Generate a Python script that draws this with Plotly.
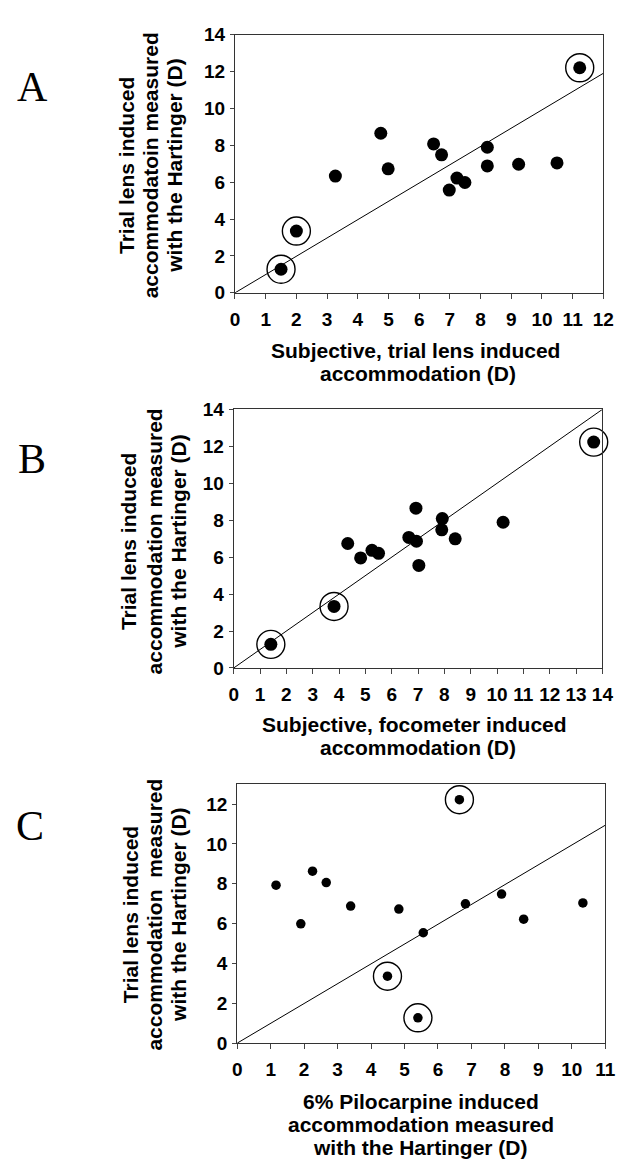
import plotly.graph_objects as go

W, H = 628, 1170

# ---------------- data ----------------
# Panel A: subjective trial lens vs Hartinger (trial lens)
a_x = [1.5, 2.0, 3.27, 4.75, 4.99, 6.47, 6.73, 6.98, 7.23, 7.49, 8.22, 8.22, 9.24, 10.49, 11.23]
a_y = [1.28, 3.35, 6.33, 8.65, 6.72, 8.07, 7.48, 5.57, 6.22, 5.98, 7.89, 6.88, 6.97, 7.04, 12.2]
a_circled = [1, 1, 0, 0, 0, 0, 0, 0, 0, 0, 0, 0, 0, 0, 1]
a_fit_x = [0, 12]
a_fit_y = [0, 11.9]

# Panel B: subjective focometer vs Hartinger (trial lens)
b_x = [1.41, 3.81, 4.33, 4.82, 5.25, 5.5, 6.65, 6.92, 6.94, 7.03, 7.92, 7.9, 8.41, 10.23, 13.67]
b_y = [1.28, 3.33, 6.74, 5.96, 6.37, 6.21, 7.07, 8.65, 6.86, 5.55, 8.09, 7.48, 6.99, 7.89, 12.23]
b_circled = [1, 1, 0, 0, 0, 0, 0, 0, 0, 0, 0, 0, 0, 0, 1]
b_fit_x = [0, 14]
b_fit_y = [0, 14]

# Panel C: pilocarpine vs Hartinger (trial lens)
c_x = [1.16, 1.9, 2.25, 2.66, 3.39, 4.83, 4.49, 5.56, 5.4, 6.64, 6.82, 7.9, 8.56, 10.33]
c_y = [7.93, 5.99, 8.63, 8.06, 6.88, 6.73, 3.36, 5.54, 1.27, 12.22, 6.99, 7.48, 6.22, 7.04]
c_circled = [0, 0, 0, 0, 0, 0, 1, 0, 1, 1, 0, 0, 0, 0]
c_fit_x = [0, 11]
c_fit_y = [0, 10.94]

a_xticks = list(range(0, 13))
a_yticks = list(range(0, 15, 2))
b_xticks = list(range(0, 15))
b_yticks = list(range(0, 15, 2))
c_xticks = list(range(0, 12))
c_yticks = list(range(0, 13, 2))

panel_letters = ["A", "B", "C"]
a_ytitle = ["Trial lens induced", "accommodatoin measured", "with the Hartinger (D)"]
b_ytitle = ["Trial lens induced", "accommodation measured", "with the Hartinger (D)"]
c_ytitle = ["Trial lens induced", "accommodation  measured", "with the Hartinger (D)"]
a_xtitle = ["Subjective, trial lens induced", "accommodation (D)"]
b_xtitle = ["Subjective, focometer induced", "accommodation (D)"]
c_xtitle = ["6% Pilocarpine induced", "accommodation measured", "with the Hartinger (D)"]

# ---------------- layout helpers ----------------
def px(x):
    return x / W

def py(y):
    return 1 - y / H

FONT = "Liberation Sans, Arial, sans-serif"
SERIF = "Liberation Serif, Times New Roman, serif"

fig = go.Figure()

panels = [
    dict(xs=a_x, ys=a_y, circ=a_circled, fx=a_fit_x, fy=a_fit_y, ax="x", ay="y",
         msize=13, box=(236, 614, 25, 288), xr=[0, 12], yr=[0, 14],
         xt=a_xticks, yt=a_yticks),
    dict(xs=b_x, ys=b_y, circ=b_circled, fx=b_fit_x, fy=b_fit_y, ax="x2", ay="y2",
         msize=13, box=(234.7, 613, 406.7, 670), xr=[0, 14], yr=[0, 14],
         xt=b_xticks, yt=b_yticks),
    dict(xs=c_x, ys=c_y, circ=c_circled, fx=c_fit_x, fy=c_fit_y, ax="x3", ay="y3",
         msize=9.5, box=(238.3, 616, 788.3, 1052), xr=[0, 11], yr=[0, 13],
         xt=c_xticks, yt=c_yticks),
]

for i, p in enumerate(panels):
    fig.add_trace(go.Scatter(x=p["fx"], y=p["fy"], mode="lines",
                             line=dict(color="black", width=1),
                             xaxis=p["ax"], yaxis=p["ay"], hoverinfo="skip"))
    fig.add_trace(go.Scatter(x=p["xs"], y=p["ys"], mode="markers",
                             marker=dict(color="black", size=p["msize"], line=dict(width=0)),
                             xaxis=p["ax"], yaxis=p["ay"], cliponaxis=False))
    cx = [x for x, c in zip(p["xs"], p["circ"]) if c]
    cy = [y for y, c in zip(p["ys"], p["circ"]) if c]
    fig.add_trace(go.Scatter(x=cx, y=cy, mode="markers",
                             marker=dict(symbol="circle-open", size=28, color="black",
                                         line=dict(color="black", width=1.4)),
                             xaxis=p["ax"], yaxis=p["ay"], cliponaxis=False))

    l, r, t, b = p["box"]
    sfx = "" if i == 0 else str(i + 1)
    tickfont = dict(family=FONT, size=19, color="black")
    fig.layout["xaxis" + sfx] = dict(
        domain=[px(l), px(r)], range=p["xr"], tickvals=p["xt"],
        ticktext=["<b>%d</b>" % v for v in p["xt"]],
        ticks="outside", ticklen=5, tickwidth=1, tickcolor="#444",
        showline=True, linecolor="#333", linewidth=1, mirror=True,
        showgrid=False, zeroline=False, tickfont=tickfont,
        anchor="y" + sfx, fixedrange=True, ticklabelstandoff=4)
    fig.layout["yaxis" + sfx] = dict(
        domain=[py(b), py(t)], range=p["yr"], tickvals=p["yt"],
        ticktext=["<b>%d</b>" % v for v in p["yt"]],
        ticks="outside", ticklen=4, tickwidth=1, tickcolor="#444",
        showline=True, linecolor="#333", linewidth=1, mirror=True,
        showgrid=False, zeroline=False, tickfont=tickfont,
        anchor="x" + sfx, fixedrange=True, ticklabelstandoff=1)

annotations = []

def ann(text, x, y, size=21, angle=0, family=FONT, bold=True):
    annotations.append(dict(text=("<b>%s</b>" % text) if bold else text,
                            x=px(x), y=py(y), xref="paper", yref="paper",
                            xanchor="center", yanchor="middle", showarrow=False,
                            textangle=angle,
                            font=dict(family=family, size=size, color="black")))

# panel letters
ann(panel_letters[0], 28, 78, size=42, family=SERIF, bold=False)
ann(panel_letters[1], 28, 457, size=42, family=SERIF, bold=False)
ann(panel_letters[2], 26, 831, size=42, family=SERIF, bold=False)

# y titles
for txt, x in zip(a_ytitle, [124, 149, 174]):
    ann(txt, x, 158, angle=-90)
for txt, x in zip(b_ytitle, [127, 153, 178]):
    ann(txt, x, 541, angle=-90)
for txt, x in zip(c_ytitle, [129, 153, 178]):
    ann(txt, x, 921, angle=-90)

# x titles
for txt, (x, y) in zip(a_xtitle, [(421.5, 347), (424, 370)]):
    ann(txt, x, y)
for txt, (x, y) in zip(b_xtitle, [(420, 728), (424, 751)]):
    ann(txt, x, y)
for txt, (x, y) in zip(c_xtitle, [(427, 1111), (427, 1135), (426, 1158)]):
    ann(txt, x, y)

fig.update_layout(
    width=W, height=H, margin=dict(l=0, r=0, t=0, b=0),
    paper_bgcolor="white", plot_bgcolor="white", showlegend=False,
    annotations=annotations,
)

fig.write_html("out.html", config={"displayModeBar": False, "staticPlot": True},
               post_script="document.body.style.margin='0';document.body.style.overflow='hidden';")
